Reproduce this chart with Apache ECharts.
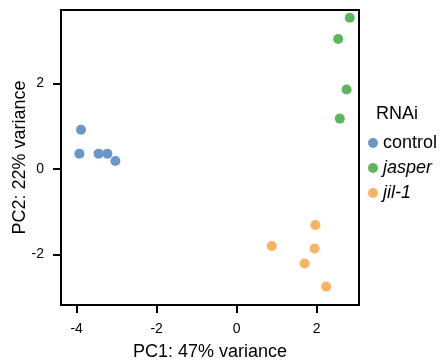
<!DOCTYPE html>
<html>
<head>
<meta charset="utf-8">
<script src="https://cdn.jsdelivr.net/npm/echarts@6/dist/echarts.min.js"></script>
<style>
  html, body { margin: 0; padding: 0; background: #fff; }
  #chart { width: 445px; height: 361px; }
</style>
</head>
<body>
<div id="chart"></div>
<script>
const groups = ["control", "jasper", "jil-1"];
const groupColors = ["#6b96c7", "#5db65d", "#f8b364"];
const controlPoints = [[-3.89, 0.92], [-3.93, 0.36], [-3.45, 0.36], [-3.23, 0.36], [-3.03, 0.19]];
const jasperPoints = [[2.83, 3.54], [2.54, 3.04], [2.75, 1.86], [2.58, 1.18]];
const jil1Points = [[1.97, -1.31], [0.88, -1.80], [1.95, -1.86], [1.70, -2.21], [2.24, -2.75]];
const xTicks = [-4, -2, 0, 2];
const yTicks = [-2, 0, 2];

const font = "'Liberation Sans', Arial, Helvetica, sans-serif";
const pointSets = [controlPoints, jasperPoints, jil1Points];

const chart = echarts.init(document.getElementById("chart"), null, { renderer: "canvas" });

chart.setOption({
  animation: false,
  title: {
    text: "RNAi",
    left: 376,
    top: 105,
    padding: 0,
    textStyle: { fontFamily: font, fontSize: 18, fontWeight: "normal", color: "#000" },
  },
  legend: {
    orient: "vertical",
    left: 368,
    top: 134,
    padding: 0,
    itemGap: 7,
    itemWidth: 10,
    itemHeight: 10,
    icon: "circle",
    data: groups,
    formatter: (name) => (name === "control" ? name : `{i|${name}}`),
    textStyle: {
      fontFamily: font,
      fontSize: 18,
      lineHeight: 18,
      color: "#000",
      rich: { i: { fontFamily: font, fontSize: 18, lineHeight: 18, fontStyle: "italic", color: "#000" } },
    },
  },
  grid: {
    left: 61,
    right: 86,
    top: 10,
    bottom: 56,
    outerBoundsMode: "none",
    containLabel: false,
    show: true,
    borderColor: "#000",
    borderWidth: 2,
    backgroundColor: "#fff",
  },
  xAxis: {
    type: "value",
    min: -4.39,
    max: 3.06,
    name: "PC1: 47% variance",
    nameLocation: "middle",
    nameGap: 38,
    nameMoveOverlap: false,
    nameTextStyle: { fontFamily: font, fontSize: 18, color: "#000" },
    axisLine: { show: false, onZero: false },
    splitLine: { show: false },
    axisTick: { show: true, inside: false, length: 8, customValues: xTicks, lineStyle: { color: "#000", width: 2 } },
    axisLabel: { customValues: xTicks, margin: 17, fontFamily: font, fontSize: 14, color: "#000" },
  },
  yAxis: {
    type: "value",
    min: -3.18,
    max: 3.72,
    name: "PC2: 22% variance",
    nameLocation: "middle",
    nameGap: 32,
    nameMoveOverlap: false,
    nameTextStyle: { fontFamily: font, fontSize: 18, color: "#000" },
    axisLine: { show: false, onZero: false },
    splitLine: { show: false },
    axisTick: { show: true, inside: false, length: 8, customValues: yTicks, lineStyle: { color: "#000", width: 2 } },
    axisLabel: { customValues: yTicks, margin: 17, fontFamily: font, fontSize: 14, color: "#000" },
  },
  series: groups.map((name, i) => ({
    name,
    type: "scatter",
    symbolSize: 10,
    itemStyle: { color: groupColors[i], opacity: 1 },
    data: pointSets[i],
  })),
});
</script>
</body>
</html>
